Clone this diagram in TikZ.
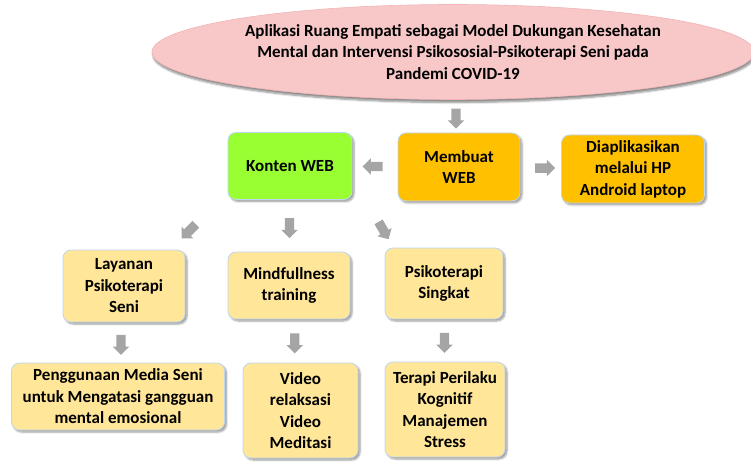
\documentclass[tikz,border=0pt]{standalone}
\usepackage{fontspec}
\setmainfont{Carlito}
\usetikzlibrary{shapes.geometric,shapes.arrows,shadows.blur,calc}

\definecolor{pinkfill}{HTML}{F8C8C8}
\definecolor{pinkline}{HTML}{F2B4B4}
\definecolor{webgreen}{HTML}{99FF33}
\definecolor{amber}{HTML}{FFC000}
\definecolor{paleyellow}{HTML}{FFE699}
\definecolor{boxline}{HTML}{BDD7EE}
\definecolor{arrowgray}{HTML}{A5A5A5}

\tikzset{
  txt/.style={font=\bfseries\fontsize{17}{21.5}\selectfont, align=center, text=black},
  titleoval/.style={ellipse, txt, fill=pinkfill, draw=pinkline, line width=0.6pt,
    minimum width=602pt, minimum height=95pt, inner sep=0pt,
    blur shadow={shadow xshift=1pt, shadow yshift=-3pt, shadow blur steps=6, shadow opacity=45}},
  stepbox/.style={rectangle, rounded corners=8pt, txt, draw=boxline, line width=0.8pt,
    inner sep=0pt,
    blur shadow={shadow xshift=2pt, shadow yshift=-2pt, shadow blur steps=5, shadow opacity=40}},
  blockarrow/.style={single arrow, fill=arrowgray, draw=none, inner sep=4.5pt,
    single arrow head extend=3.5pt, minimum height=20pt},
}

\begin{document}
\begin{tikzpicture}[x=1pt,y=1pt]
\useasboundingbox (0,0) rectangle (751,461);

% title
\node[titleoval] (top) at (453,409)
  {Aplikasi Ruang Empati sebagai Model Dukungan Kesehatan\\
   Mental dan Intervensi Psikososial-Psikoterapi Seni pada\\
   Pandemi COVID-19};

% second row
\node[stepbox, fill=webgreen, minimum width=124pt, minimum height=67pt] (konten) at (290,295) {Konten WEB};
\node[stepbox, fill=amber, minimum width=122pt, minimum height=68pt] (membuat) at (459,294) {Membuat\\WEB};
\node[stepbox, fill=amber, minimum width=143pt, minimum height=68pt] (diap) at (633,292) {Diaplikasikan\\melalui HP\\Android laptop};

% third row
\node[stepbox, fill=paleyellow, minimum width=122pt, minimum height=72pt] (layanan) at (124,175) {Layanan\\Psikoterapi\\Seni};
\node[stepbox, fill=paleyellow, minimum width=122pt, minimum height=67pt] (mind) at (289,175.5) {Mindfullness\\training};
\node[stepbox, fill=paleyellow, minimum width=118pt, minimum height=71pt] (psiko) at (444,177.5) {Psikoterapi\\Singkat};

% fourth row
\node[stepbox, fill=paleyellow, minimum width=213pt, minimum height=67pt] (peng) at (118,64.5) {Penggunaan Media Seni\\untuk Mengatasi gangguan\\mental emosional};
\node[stepbox, fill=paleyellow, minimum width=115pt, minimum height=95pt] (video) at (300.5,50.5) {Video\\relaksasi\\Video\\Meditasi};
\node[stepbox, fill=paleyellow, minimum width=120pt, minimum height=95pt] (terapi) at (445,51.5) {Terapi Perilaku\\Kognitif\\Manajemen\\Stress};

% block arrows between the steps
\node[blockarrow, rotate=-90] at ($(top.south)!0.5!(membuat.north)$) {};
\node[blockarrow, rotate=180] at ($(membuat.west)!0.5!(konten.east)$) {};
\node[blockarrow] at ($(membuat.east)!0.55!(diap.west)$) {};
\node[blockarrow, rotate=-135] at ($(konten.south)!0.6!(layanan.north)$) {};
\node[blockarrow, rotate=-90] at ($(konten.south)!0.5!(mind.north)$) {};
\node[blockarrow, rotate=-60] at ($(konten.south)!0.6!(psiko.north)$) {};
\node[blockarrow, rotate=-90] at ($(layanan.south)!0.5!(peng.north)$) {};
\node[blockarrow, rotate=-90] at ($(mind.south)!0.5!(video.north)$) {};
\node[blockarrow, rotate=-90] at ($(psiko.south)!0.5!(terapi.north)$) {};
\end{tikzpicture}
\end{document}
